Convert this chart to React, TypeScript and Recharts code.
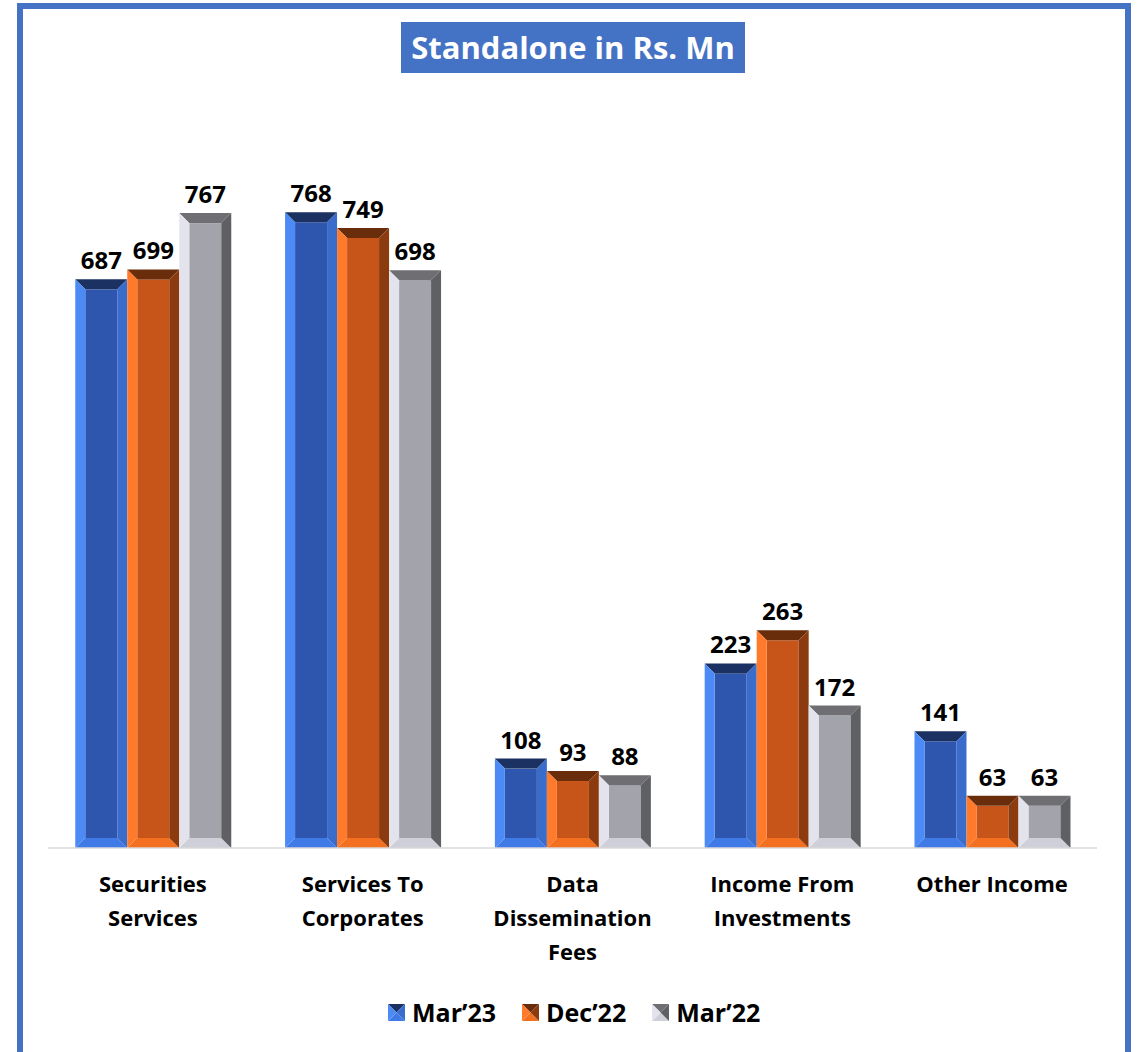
import React from "react";
import { BarChart, Bar, XAxis, YAxis, LabelList } from "recharts";

const categories = [
  ["Securities", "Services"],
  ["Services To", "Corporates"],
  ["Data", "Dissemination", "Fees"],
  ["Income From", "Investments"],
  ["Other Income"],
];
const mar23 = [687, 768, 108, 223, 141];
const dec22 = [699, 749, 93, 263, 63];
const mar22 = [767, 698, 88, 172, 63];
const seriesNames = ["Mar\u201923", "Dec\u201922", "Mar\u201922"];

type Bevel = { face: string; top: string; left: string; right: string; bottom: string };
const palettes: Bevel[] = [
  { face: "#2F56AE", top: "#1B3161", left: "#4C8BF5", right: "#3A6CCB", bottom: "#3F7AE6" },
  { face: "#C75419", top: "#6A2D0C", left: "#FF7B2B", right: "#8C3B0F", bottom: "#F2701F" },
  { face: "#A3A3AC", top: "#6E6E73", left: "#E3E3EE", right: "#5E6063", bottom: "#CFCFDA" },
];

const data = categories.map((c, i) => ({
  name: c.join(" "),
  mar23: mar23[i],
  dec22: dec22[i],
  mar22: mar22[i],
}));

const FONT = "'Open Sans', sans-serif";

const makeShape = (p: Bevel) => (props: any) => {
  const { x, y, width: w, height: h } = props;
  if (!w || !h) return null;
  const b = Math.min(10, w / 4, h / 2);
  const pts = (a: number[][]) => a.map((q) => q.join(",")).join(" ");
  return (
    <g>
      <rect x={x + b} y={y + b} width={w - 2 * b} height={Math.max(0, h - 2 * b)} fill={p.face} />
      <polygon points={pts([[x, y], [x + w, y], [x + w - b, y + b], [x + b, y + b]])} fill={p.top} />
      <polygon points={pts([[x, y + h], [x + w, y + h], [x + w - b, y + h - b], [x + b, y + h - b]])} fill={p.bottom} />
      <polygon points={pts([[x, y], [x + b, y + b], [x + b, y + h - b], [x, y + h]])} fill={p.left} />
      <polygon points={pts([[x + w, y], [x + w - b, y + b], [x + w - b, y + h - b], [x + w, y + h]])} fill={p.right} />
    </g>
  );
};

const CategoryTick = (props: any) => {
  const { x, y, payload, index } = props;
  const lines = categories[index] ?? [payload.value];
  return (
    <text x={x} y={y} textAnchor="middle" fontFamily={FONT} fontWeight={700} fontSize={22} fill="#000">
      {lines.map((l: string, i: number) => (
        <tspan key={i} x={x} y={y + 36 + i * 34}>
          {l}
        </tspan>
      ))}
    </text>
  );
};

const LegendIcon = ({ p }: { p: Bevel }) => (
  <svg width={17} height={17} style={{ display: "block" }}>
    <polygon points="0,0 17,0 8.5,8.5" fill={p.top} />
    <polygon points="0,17 17,17 8.5,8.5" fill={p.bottom} />
    <polygon points="0,0 8.5,8.5 0,17" fill={p.left} />
    <polygon points="17,0 8.5,8.5 17,17" fill={p.right} />
  </svg>
);

export default function App() {
  const keys = ["mar23", "dec22", "mar22"];
  return (
    <div style={{ position: "absolute", left: 0, top: 0, width: 1137, height: 1052, background: "#fff", overflow: "hidden" }}>
      <div
        style={{
          position: "absolute",
          left: 17,
          top: 3,
          width: 1102,
          height: 1060,
          border: "6px solid #4472C4",
        }}
      />
      <div
        style={{
          position: "absolute",
          left: 401,
          top: 22,
          width: 344,
          height: 51,
          background: "#4472C4",
          color: "#fff",
          fontFamily: FONT,
          fontWeight: 700,
          fontSize: 31,
          lineHeight: "51px",
          textAlign: "center",
        }}
      >
        Standalone in Rs. Mn
      </div>
      <BarChart
        width={1137}
        height={1052}
        data={data}
        margin={{ top: 103, right: 40, bottom: 84, left: 48 }}
        barCategoryGap="13%"
        barGap={0}
        style={{ position: "absolute", left: 0, top: 0 }}
      >
        <XAxis
          dataKey="name"
          height={120}
          axisLine={{ stroke: "#D9D9D9", strokeWidth: 1.5 }}
          tickLine={false}
          tick={<CategoryTick />}
          interval={0}
        />
        <YAxis hide domain={[0, 900]} />
        {keys.map((k, i) => (
          <Bar key={k} dataKey={k} isAnimationActive={false} shape={makeShape(palettes[i])}>
            <LabelList
              dataKey={k}
              position="top"
              offset={10}
              fill="#000"
              fontFamily={FONT}
              fontWeight={700}
              fontSize={24}
            />
          </Bar>
        ))}
      </BarChart>
      <div
        style={{
          position: "absolute",
          top: 996,
          left: 388,
          display: "flex",
          fontFamily: FONT,
          fontWeight: 700,
          fontSize: 25,
        }}
      >
        {seriesNames.map((n, i) => (
          <div key={n} style={{ display: "flex", alignItems: "center", marginRight: i < 2 ? 26 : 0 }}>
            <LegendIcon p={palettes[i]} />
            <span style={{ marginLeft: 7, lineHeight: "32px" }}>{n}</span>
          </div>
        ))}
      </div>
    </div>
  );
}
